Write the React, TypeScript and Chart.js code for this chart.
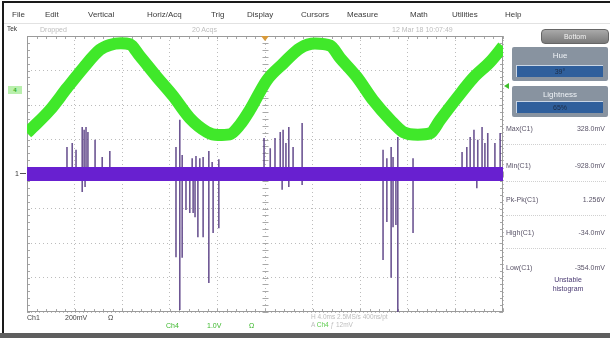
import React, { useEffect, useRef } from "react";
import { Chart, registerables } from "chart.js";

Chart.register(...registerables);

// ---- data (divisions: x 0..10, y -4..4) ----
const ch4X = [0, 0.13, 0.48, 0.84, 1.18, 1.53, 1.74, 1.97, 2.16, 2.37, 2.73, 3.07, 3.42, 3.78, 4.01, 4.26, 4.47, 4.68, 5.04, 5.38, 5.74, 6.05, 6.37, 6.58, 6.93, 7.27, 7.63, 7.9, 8.21, 8.47, 8.68, 9.03, 9.37, 9.73, 10];
const ch4Y = [1.19, 1.36, 1.85, 2.49, 3.07, 3.6, 3.74, 3.79, 3.76, 3.42, 2.81, 2.26, 1.62, 1.22, 1.13, 1.15, 1.42, 1.85, 2.72, 3.2, 3.65, 3.78, 3.72, 3.36, 2.81, 2.14, 1.57, 1.22, 1.14, 1.18, 1.57, 2.2, 2.78, 3.25, 3.7];

const ch1X = [0, 10];
const ch1Y = [0, 0];

const upX = [0.84, 0.95, 1.03, 1.16, 1.2, 1.24, 1.28, 1.43, 1.58, 1.74, 3.13, 3.21, 3.26, 3.47, 3.55, 3.63, 3.7, 3.82, 3.89, 4.03, 4.98, 5.11, 5.21, 5.32, 5.38, 5.44, 5.5, 5.59, 5.78, 7.48, 7.56, 7.65, 7.69, 7.79, 8.11, 9.14, 9.24, 9.31, 9.39, 9.47, 9.56, 9.62, 9.68, 9.83, 9.94];
const upH = [0.78, 0.9, 0.7, 1.36, 1.28, 1.36, 1.22, 0.99, 0.49, 0.67, 0.78, 1.57, 0.55, 0.46, 0.52, 0.46, 0.49, 0.67, 0.35, 0.43, 1.04, 0.75, 1.04, 1.22, 1.28, 0.9, 1.36, 0.78, 1.48, 0.7, 0.46, 0.78, 0.49, 1.07, 0.46, 0.64, 0.78, 1.07, 1.28, 0.99, 1.36, 0.9, 1.19, 0.9, 1.19];

const downX = [1.16, 1.22, 3.13, 3.21, 3.26, 3.34, 3.42, 3.49, 3.53, 3.59, 3.7, 3.82, 3.91, 4.03, 5.36, 5.5, 5.78, 7.48, 7.56, 7.65, 7.69, 7.75, 7.79, 8.11, 9.45];
const downH = [-0.52, -0.38, -2.41, -3.94, -2.43, -1.04, -1.13, -1.13, -1.25, -1.83, -1.83, -3.16, -1.71, -1.57, -0.46, -0.38, -0.32, -2.49, -1.39, -3.01, -1.54, -1.48, -4, -1.71, -0.41];

const menuItems = ["File", "Edit", "Vertical", "Horiz/Acq", "Trig", "Display", "Cursors", "Measure", "Math", "Utilities", "Help"];
const menuPos = [12, 45, 88, 147, 211, 247, 301, 347, 410, 452, 505];

const measLabels = ["Max(C1)", "Min(C1)", "Pk-Pk(C1)", "High(C1)", "Low(C1)"];
const measValues = ["328.0mV", "-928.0mV", "1.256V", "-34.0mV", "-354.0mV"];
const measTops = [125, 162, 196, 229, 264];

const FONT = '"Liberation Sans", Arial, sans-serif';

function spikeData(xs: number[], hs: number[]) {
  const out: { x: number; y: number | null }[] = [];
  xs.forEach((x, i) => {
    out.push({ x, y: 0 });
    out.push({ x, y: hs[i] });
    out.push({ x, y: null });
  });
  return out;
}

const scopePlugin = {
  id: "scopeDecor",
  beforeDatasetsDraw(chart: any) {
    const { ctx, chartArea: a, scales } = chart;
    const xs = scales.x;
    const ys = scales.y;
    ctx.save();
    ctx.strokeStyle = "#a8a8a8";
    ctx.lineWidth = 1;
    ctx.beginPath();
    const cx = Math.round(xs.getPixelForValue(5)) + 0.5;
    const cy = Math.round(ys.getPixelForValue(0)) + 0.5;
    for (let k = 0; k <= 40; k++) {
      const v = -4 + k * 0.2;
      const py = Math.round(ys.getPixelForValue(v)) + 0.5;
      ctx.moveTo(cx - 3, py); ctx.lineTo(cx + 3, py);
      ctx.moveTo(a.left, py); ctx.lineTo(a.left + 3, py);
      ctx.moveTo(a.right - 3, py); ctx.lineTo(a.right, py);
    }
    for (let k = 0; k <= 50; k++) {
      const v = k * 0.2;
      const px = Math.round(xs.getPixelForValue(v)) + 0.5;
      ctx.moveTo(px, cy - 3); ctx.lineTo(px, cy + 3);
      ctx.moveTo(px, a.top); ctx.lineTo(px, a.top + 3);
      ctx.moveTo(px, a.bottom - 3); ctx.lineTo(px, a.bottom);
    }
    ctx.stroke();
    ctx.strokeStyle = "#9a9a9a";
    ctx.strokeRect(a.left + 0.5, a.top + 0.5, a.right - a.left - 1, a.bottom - a.top - 1);
    ctx.restore();
  },
  afterDatasetsDraw(chart: any) {
    const { ctx, chartArea: a, scales } = chart;
    const xs = scales.x;
    const ys = scales.y;
    ctx.save();
    const tx = xs.getPixelForValue(5);
    ctx.fillStyle = "#d89a3a";
    ctx.beginPath();
    ctx.moveTo(tx - 4, a.top);
    ctx.lineTo(tx + 4, a.top);
    ctx.lineTo(tx, a.top + 5);
    ctx.closePath();
    ctx.fill();
    const ly = ys.getPixelForValue(2.55);
    ctx.fillStyle = "#3fbf2b";
    ctx.beginPath();
    ctx.moveTo(a.right + 1, ly);
    ctx.lineTo(a.right + 6, ly - 3);
    ctx.lineTo(a.right + 6, ly + 3);
    ctx.closePath();
    ctx.fill();
    ctx.restore();
  },
};

function Txt(props: { x: number; y: number; c?: string; s?: number; w?: number; children: any; align?: string; width?: number }) {
  const style: any = {
    position: "absolute",
    left: props.x,
    top: props.y,
    color: props.c || "#3c3c3c",
    fontSize: props.s || 8,
    fontWeight: props.w || 400,
    fontFamily: FONT,
    lineHeight: 1,
    whiteSpace: "nowrap",
  };
  if (props.width) {
    style.width = props.width;
    style.textAlign = props.align || "left";
  }
  return <div style={style}>{props.children}</div>;
}

function Panel(props: { y: number; h: number; title: string; value: string }) {
  return (
    <div style={{ position: "absolute", left: 512, top: props.y, width: 96, height: props.h, background: "#8893a0", borderRadius: 2 }}>
      <div style={{ position: "absolute", left: 0, top: 5, width: 96, textAlign: "center", color: "#eef2f6", fontSize: 8, fontFamily: FONT, lineHeight: 1 }}>{props.title}</div>
      <div style={{ position: "absolute", left: 4, top: props.h - 16, width: 86, height: 11, background: "#2f5f9c", borderTop: "1px solid #c9d6e6", borderLeft: "1px solid #c9d6e6", color: "#1c2c46", fontSize: 7, fontFamily: FONT, lineHeight: "11px", textAlign: "center" }}>{props.value}</div>
    </div>
  );
}

export default function App() {
  const ref = useRef<HTMLCanvasElement | null>(null);

  useEffect(() => {
    if (!ref.current) return;
    const spikeColor = "rgba(84, 56, 128, 0.85)";
    const chart = new Chart(ref.current, {
      type: "line",
      data: {
        datasets: [
          {
            label: "Ch4",
            data: ch4X.map((x, i) => ({ x, y: ch4Y[i] })),
            borderColor: "#40e82a",
            borderWidth: 12,
            pointRadius: 0,
            cubicInterpolationMode: "monotone",
            borderCapStyle: "butt",
            borderJoinStyle: "round",
            clip: 0,
          } as any,
          {
            label: "Ch1",
            data: ch1X.map((x, i) => ({ x, y: ch1Y[i] })),
            borderColor: "#6820d0",
            borderWidth: 14,
            pointRadius: 0,
            clip: 0,
          } as any,
          {
            label: "Ch1 spikes up",
            data: spikeData(upX, upH),
            borderColor: spikeColor,
            borderWidth: 1.6,
            pointRadius: 0,
            spanGaps: false,
            clip: 0,
          } as any,
          {
            label: "Ch1 spikes down",
            data: spikeData(downX, downH),
            borderColor: spikeColor,
            borderWidth: 1.6,
            pointRadius: 0,
            spanGaps: false,
            clip: 0,
          } as any,
        ],
      },
      options: {
        responsive: false,
        animation: false,
        devicePixelRatio: 1,
        events: [],
        layout: { padding: { left: 27, top: 36, right: 107, bottom: 26 } },
        plugins: { legend: { display: false }, tooltip: { enabled: false } },
        scales: {
          x: {
            type: "linear",
            min: 0,
            max: 10,
            ticks: { display: false, stepSize: 1 },
            grid: { color: "#bcbcbc", drawTicks: false, lineWidth: 1 },
            border: { display: false, dash: [1, 3] },
          },
          y: {
            type: "linear",
            min: -4,
            max: 4,
            ticks: { display: false, stepSize: 1 },
            grid: { color: "#bcbcbc", drawTicks: false, lineWidth: 1 },
            border: { display: false, dash: [1, 3] },
          },
        },
      } as any,
      plugins: [scopePlugin],
    });
    return () => chart.destroy();
  }, []);

  return (
    <div style={{ position: "absolute", left: 0, top: 0, width: 610, height: 338, background: "#ffffff", overflow: "hidden" }}>
      <canvas ref={ref} width={610} height={338} style={{ position: "absolute", left: 0, top: 0, width: 610, height: 338 }} />
      <div style={{ position: "absolute", left: 2, top: 1, width: 608, height: 2, background: "#1a1a1a" }} />
      <div style={{ position: "absolute", left: 2, top: 1, width: 2, height: 332, background: "#1a1a1a" }} />
      <div style={{ position: "absolute", left: 0, top: 333, width: 610, height: 5, background: "#5e5e5e" }} />
      <div style={{ position: "absolute", left: 4, top: 23, width: 606, height: 1, background: "#e2e2e2" }} />
      {menuItems.map((m, i) => (
        <Txt key={m} x={menuPos[i]} y={11} c="#3a3a3a" s={8}>{m}</Txt>
      ))}
      <Txt x={7} y={26} c="#333" s={6.5}>Tek</Txt>
      <Txt x={40} y={26} c="#bdbdbd" s={7}>Dropped</Txt>
      <Txt x={192} y={26} c="#bdbdbd" s={7}>20 Acqs</Txt>
      <Txt x={392} y={26} c="#bdbdbd" s={7}>12 Mar 18 10:07:49</Txt>
      <div style={{ position: "absolute", left: 8, top: 86, width: 14, height: 8, background: "#b9f0ad", color: "#2fae22", fontSize: 6, fontFamily: FONT, lineHeight: "8px", textAlign: "center", fontWeight: 700 }}>4</div>
      <Txt x={15} y={170} c="#333" s={7}>1</Txt>
      <div style={{ position: "absolute", left: 20, top: 173, width: 6, height: 1, background: "#555" }} />
      <div style={{ position: "absolute", left: 541, top: 29, width: 66, height: 13, background: "linear-gradient(#a9a9a9,#7a7a7a)", borderRadius: 4, border: "1px solid #666", color: "#f4f4f4", fontSize: 7, fontFamily: FONT, lineHeight: "13px", textAlign: "center" }}>Bottom</div>
      <Panel y={47} h={34} title="Hue" value="39°" />
      <Panel y={86} h={31} title="Lightness" value="65%" />
      {measLabels.map((m, i) => (
        <React.Fragment key={m}>
          <Txt x={506} y={measTops[i]} c="#5a5468" s={7}>{m}</Txt>
          <Txt x={548} y={measTops[i]} c="#5a5468" s={7} width={57} align="right">{measValues[i]}</Txt>
          {i < 4 ? <div style={{ position: "absolute", left: 506, top: measTops[i] + 19, width: 100, height: 0, borderTop: "1px dotted #d0d0d0" }} /> : null}
        </React.Fragment>
      ))}
      <Txt x={530} y={276} c="#4a3a72" s={7} width={76} align="center">Unstable</Txt>
      <Txt x={530} y={285} c="#4a3a72" s={7} width={76} align="center">histogram</Txt>
      <Txt x={27} y={314} c="#444" s={7}>Ch1</Txt>
      <Txt x={65} y={314} c="#444" s={7}>200mV</Txt>
      <Txt x={108} y={314} c="#444" s={7}>Ω</Txt>
      <Txt x={166} y={322} c="#3cb82c" s={7}>Ch4</Txt>
      <Txt x={207} y={322} c="#3cb82c" s={7}>1.0V</Txt>
      <Txt x={249} y={322} c="#3cb82c" s={7}>Ω</Txt>
      <Txt x={311} y={314} c="#bdbdbd" s={6.5}>H 4.0ms 2.5MS/s 400ns/pt</Txt>
      <Txt x={311} y={322} c="#bdbdbd" s={6.5}>A <span style={{ color: "#5ccc4c" }}>Ch4</span> ƒ 12mV</Txt>
    </div>
  );
}
